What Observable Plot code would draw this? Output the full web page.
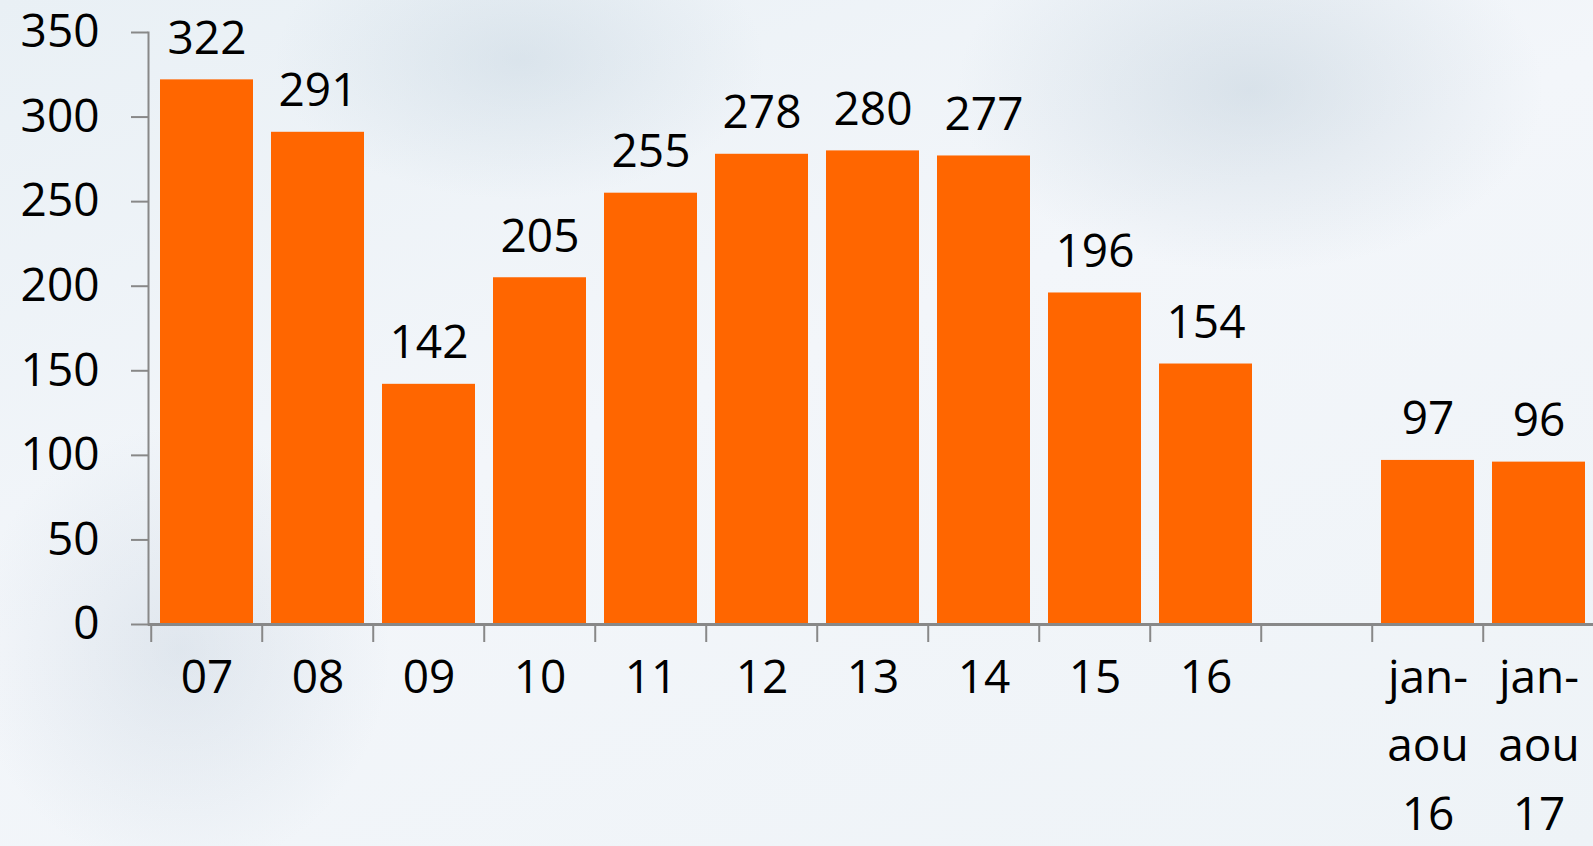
<!DOCTYPE html>
<html>
<head>
<meta charset="utf-8">
<script src="https://cdn.jsdelivr.net/npm/d3@7"></script>
<script src="https://cdn.jsdelivr.net/npm/@observablehq/plot@0.6"></script>
<style>
  html, body { margin: 0; padding: 0; overflow: hidden; }
  body {
    width: 1593px; height: 846px;
    background:
      radial-gradient(ellipse 420px 260px at 1250px 90px, rgba(170,190,205,0.35), rgba(255,255,255,0) 70%),
      radial-gradient(ellipse 300px 320px at 180px 650px, rgba(180,195,210,0.30), rgba(255,255,255,0) 70%),
      radial-gradient(ellipse 350px 200px at 520px 60px, rgba(175,195,210,0.30), rgba(255,255,255,0) 70%),
      linear-gradient(160deg, #e9f0f5 0%, #f3f6fa 45%, #eef3f7 100%);
  }
  svg { display: block; }
</style>
</head>
<body>
<div id="chart"></div>
<script>
const categories = ["07","08","09","10","11","12","13","14","15","16"," ","jan-\naou\n16","jan-\naou\n17"];
const values = [322,291,142,205,255,278,280,277,196,154,null,97,96];
const yTicks = [0,50,100,150,200,250,300,350];

const data = categories.map((c, i) => ({cat: c, value: values[i]})).filter(d => d.value != null);

const width = 1593, height = 846;
const marginLeft = 148, marginRight = -5;
const bandwidth = (width - marginLeft - marginRight) / categories.length;
const font = "'Open Sans', sans-serif";
const axisColor = "#888888";
const fs = 46;

const chart = Plot.plot({
  width, height,
  marginLeft, marginRight,
  marginTop: 32, marginBottom: 222,
  style: {fontFamily: font, fontSize: fs + "px", color: "#000", background: "transparent", overflow: "hidden"},
  x: {domain: categories, padding: 0.16, paddingOuter: 0.08},
  y: {domain: [0, 350]},
  marks: [
    Plot.barY(data, {x: "cat", y: "value", fill: "#FF6600"}),
    Plot.text(data, {x: "cat", y: "value", text: d => String(d.value), lineAnchor: "bottom", dy: -26, fontSize: fs, fill: "#000"}),
    Plot.frame({anchor: "left", stroke: axisColor, strokeWidth: 2}),
    Plot.ruleY([0], {stroke: axisColor, strokeWidth: 3}),
    Plot.axisY({ticks: yTicks, tickSize: 17, tickPadding: 32, stroke: axisColor, strokeWidth: 2, fontSize: fs, fill: "#000", label: null}),
    Plot.axisX({tickSize: 18, stroke: axisColor, strokeWidth: 2, text: null, dx: -bandwidth / 2, label: null}),
    Plot.axisX({tickSize: 0, tickPadding: 19, fontSize: fs, lineHeight: 1.5, fill: "#000", label: null})
  ]
});
document.getElementById("chart").appendChild(chart);
</script>
</body>
</html>
